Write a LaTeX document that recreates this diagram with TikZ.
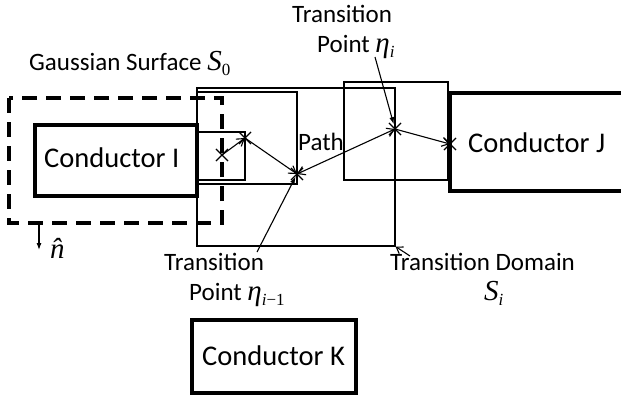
\documentclass[tikz,border=0pt]{standalone}
\usepackage{fontspec}
\setmainfont{Carlito}
\newfontfamily\tnr{Liberation Serif}
\usetikzlibrary{arrows.meta,shapes.misc}
\newcommand\mvar[1]{{\tnr\itshape\fontsize{29}{30}\selectfont #1}}
\newcommand\msub[1]{\raisebox{-5pt}{\tnr\fontsize{17}{17}\selectfont #1}}
\begin{document}
\begin{tikzpicture}[x=1pt,y=-1pt,
  thinline/.style={draw=black,line width=1.1pt},
  cond/.style={draw=black,line width=3.5pt,inner sep=0pt},
  gauss/.style={draw=black,line width=3.2pt,dash pattern=on 15pt off 9pt},
  lbl/.style={inner sep=0pt,anchor=base west,font=\fontsize{25}{28}\selectfont},
  ctext/.style={inner sep=0pt,anchor=base west,font=\fontsize{28.5}{32}\selectfont},
  patharrow/.style={line width=1.1pt,-{Straight Barb[length=7pt,width=9pt]}},
  patharrows/.style={line width=1.1pt,{Straight Barb[length=7pt,width=9pt]}-{Straight Barb[length=7pt,width=9pt]}},
  ptr/.style={line width=1.1pt,-{Latex[length=7pt,width=5pt]}},
  ptropen/.style={line width=1.1pt,-{Straight Barb[length=6pt,width=8pt]}},
  xmark/.style={draw=black,line width=1.1pt,cross out,minimum size=11pt,inner sep=0pt}]
\clip (0,0) rectangle (621,397);
% transition domains
\node[thinline,minimum width=198pt,minimum height=158pt,inner sep=0pt] (dom) at (296,167) {};
\draw[thinline] (197,92) rectangle (297,184);
\draw[thinline] (197,132) rectangle (245,180);
\draw[thinline] (344,82) rectangle (448,180);
% gaussian surface
\draw[gauss] (9,98) rectangle (222,223);
% conductors
\node[cond,minimum width=162pt,minimum height=71pt] (ci) at (116,160.5) {};
\node[ctext] (tI) at (44,167) {Conductor I};
\node[cond,minimum width=174pt,minimum height=98pt] (cj) at (537,142) {};
\node[ctext] (tJ) at (468,152) {Conductor J};
\node[cond,minimum width=164pt,minimum height=73pt] (ck) at (274,356.5) {};
\node[ctext] (tK) at (202,365) {Conductor K};
% points
\coordinate (p1) at (222,155);
\coordinate (p2) at (245,138);
\coordinate (p3) at (297,174);
\coordinate (p4) at (395,129);
\coordinate (p5) at (450,144);
\foreach \p in {p1,p2,p3,p4,p5} \node[xmark] (x\p) at (\p) {};
% path
\draw[patharrow] (p1) -- (p2);
\draw[patharrow] (p2) -- (p3);
\draw[patharrows] (p3) -- (p4);
\draw[patharrow] (p4) -- (p5);
% labels
\node[lbl] (gs) at (29,70) {Gaussian Surface \mvar{S}\msub{0}};
\node[lbl] (path) at (298,150) {Path};
\node[lbl] (t1a) at (292,22) {Transition};
\node[lbl] (t1b) at (317,52) {Point \mvar{η}\msub{\itshape i}};
\node[lbl] (t2a) at (164,270) {Transition};
\node[lbl] (t2b) at (189,300) {Point \mvar{η}\msub{\itshape i\upshape −1}};
\node[lbl] (td) at (390,270) {Transition Domain};
\node[lbl] (si) at (484,300) {\mvar{S}\msub{\itshape i}};
% pointers
\coordinate (a1) at (375,57);
\draw[ptr,shorten >=5pt] (a1) -- (p4);
\coordinate (a2) at (257,252);
\draw[ptr,shorten >=3pt] (a2) -- (p3);
\coordinate (a3) at (410,256);
\draw[ptropen] (a3) -- (dom.south east);
% normal
\coordinate (n0) at (39,223);
\coordinate (n1) at (39,250);
\draw[ptr] (n0) -- (n1);
\node[lbl] (nh) at (50,258) {\mvar{\^{n}}};
\end{tikzpicture}
\end{document}
